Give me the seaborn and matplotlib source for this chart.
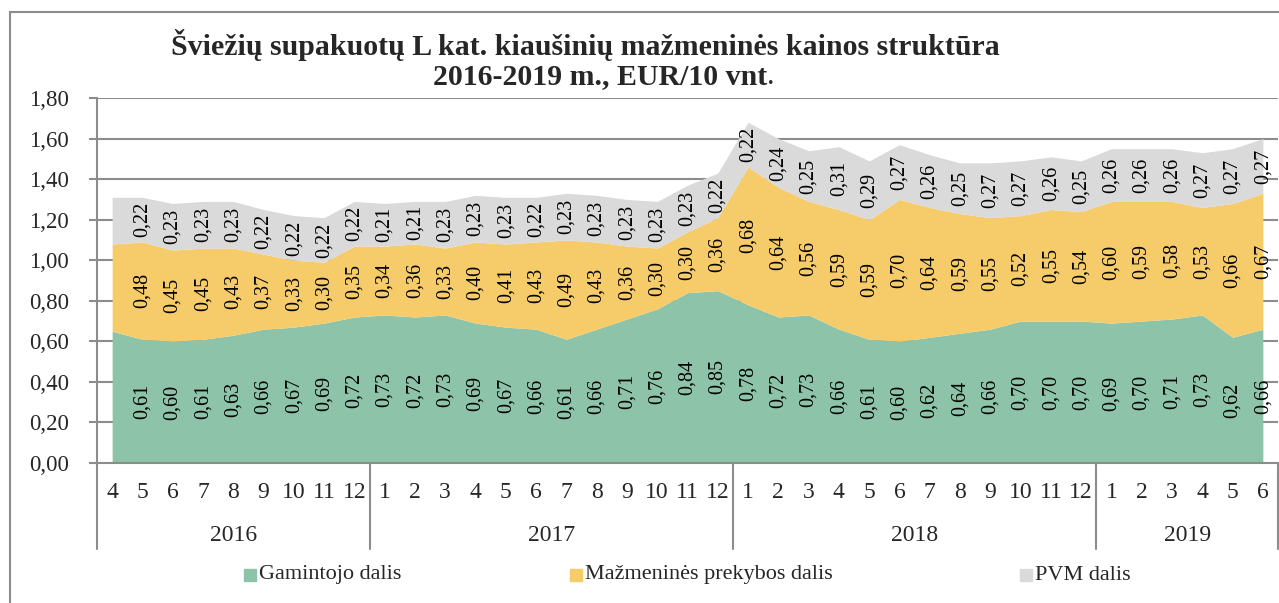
import numpy as np
import pandas as pd
import matplotlib
matplotlib.use("Agg")
import matplotlib.pyplot as plt
import seaborn as sns
from matplotlib.patches import Rectangle
from matplotlib.lines import Line2D

# ---------------- data ----------------
years = ["2016", "2017", "2018", "2019"]
months_per_year = [list(range(4, 13)), list(range(1, 13)), list(range(1, 13)), list(range(1, 7))]
month_labels = [str(m) for ms in months_per_year for m in ms]

gamintojo = [0.65, 0.61, 0.60, 0.61, 0.63, 0.66, 0.67, 0.69, 0.72,
             0.73, 0.72, 0.73, 0.69, 0.67, 0.66, 0.61, 0.66, 0.71, 0.76, 0.84, 0.85,
             0.78, 0.72, 0.73, 0.66, 0.61, 0.60, 0.62, 0.64, 0.66, 0.70, 0.70, 0.70,
             0.69, 0.70, 0.71, 0.73, 0.62, 0.66]
prekybos = [0.43, 0.48, 0.45, 0.45, 0.43, 0.37, 0.33, 0.30, 0.35,
            0.34, 0.36, 0.33, 0.40, 0.41, 0.43, 0.49, 0.43, 0.36, 0.30, 0.30, 0.36,
            0.68, 0.64, 0.56, 0.59, 0.59, 0.70, 0.64, 0.59, 0.55, 0.52, 0.55, 0.54,
            0.60, 0.59, 0.58, 0.53, 0.66, 0.67]
pvm = [0.23, 0.22, 0.23, 0.23, 0.23, 0.22, 0.22, 0.22, 0.22,
       0.21, 0.21, 0.23, 0.23, 0.23, 0.22, 0.23, 0.23, 0.23, 0.23, 0.23, 0.22,
       0.22, 0.24, 0.25, 0.31, 0.29, 0.27, 0.26, 0.25, 0.27, 0.27, 0.26, 0.25,
       0.26, 0.26, 0.26, 0.27, 0.27, 0.27]
series_names = ["Gamintojo dalis", "Mažmeninės prekybos dalis", "PVM dalis"]
yticks = [0.0, 0.2, 0.4, 0.6, 0.8, 1.0, 1.2, 1.4, 1.6, 1.8]

df = pd.DataFrame({"x": np.arange(len(month_labels)), series_names[0]: gamintojo,
                   series_names[1]: prekybos, series_names[2]: pvm})

# ---------------- style ----------------
sns.set_theme(style="white")
plt.rcParams["font.family"] = ["Liberation Serif", "DejaVu Serif"]
colors = sns.color_palette(["#8dc3a8", "#f5cc69", "#dadada"])
grid_c = "#8c8c8c"
W, H = 1279, 603

fig = plt.figure(figsize=(12.79, 6.03), dpi=100)
ax = fig.add_axes([97 / W, 1 - 463 / H, (1278 - 97) / W, (463 - 98) / H])

x = df["x"].values
ax.stackplot(x, df[series_names[0]], df[series_names[1]], df[series_names[2]],
             colors=colors, linewidth=0, zorder=2)

n = len(x)
ax.set_xlim(-0.5, n - 0.5)
ax.set_ylim(0, 1.8)
ax.set_yticks(yticks)
ax.set_yticklabels([f"{v:.2f}".replace(".", ",") for v in yticks], fontsize=16.5)
for v in yticks[1:]:
    ax.axhline(v, color=grid_c, lw=1.5, zorder=1)
ax.set_xticks([])
for s in ["top", "right"]:
    ax.spines[s].set_visible(False)
for s in ["left", "bottom"]:
    ax.spines[s].set_color(grid_c)
    ax.spines[s].set_linewidth(1.5)
ax.spines["bottom"].set_zorder(3)
ax.tick_params(axis="y", length=6, width=1.5, color=grid_c, pad=14, left=True)

# data labels (rotated, centred in each band)
g = np.array(gamintojo); p = np.array(prekybos); v = np.array(pvm)
for i in range(1, n):
    for val, base in ((g[i], 0), (p[i], g[i]), (v[i], g[i] + p[i])):
        ax.text(x[i], base + val / 2, f"{val:.2f}".replace(".", ","), rotation=90,
                ha="center", va="center", fontsize=14.5, color="black", zorder=4)

# category axis: months and years
trans = ax.get_xaxis_transform()
for i, lab in enumerate(month_labels):
    ax.text(x[i], -0.08, lab, transform=trans, ha="center", va="center", fontsize=17, clip_on=False)
start = 0
bounds = [-0.5]
for yr, ms in zip(years, months_per_year):
    end = start + len(ms)
    ax.text((start + end - 1) / 2, -0.198, yr, transform=trans, ha="center", va="center",
            fontsize=17, clip_on=False)
    bounds.append(end - 0.5)
    start = end
for b in bounds:
    ax.add_line(Line2D([b, b], [0, -0.235], transform=trans, color=grid_c, lw=1.5, clip_on=False))

# title
t = fig.text(585 / W, 1 - 45 / H, "Šviežių supakuotų L kat. kiaušinių mažmeninės kainos struktūra",
             ha="center", va="center", fontsize=21.5, fontweight="bold")
t2 = fig.text(600 / W, 1 - 77 / H, "2016-2019 m., EUR/10 vnt", ha="center", va="center",
              fontsize=21.5, fontweight="bold")
ann = plt.annotate(".", xy=(1, 0), xycoords=t2, va="bottom", ha="left", fontsize=21.5)

# legend (manual placement, as in the reference)
leg_y = 1 - 575 / H
sq = 12
for name, c, xs in zip(series_names, colors, [244, 570, 1020]):
    fig.patches.append(Rectangle((xs / W, leg_y - sq / 2 / H), sq / W, sq / H,
                                 transform=fig.transFigure, color=c))
    fig.text((xs + sq + 3) / W, leg_y, name, ha="left", va="center", fontsize=16)

# outer chart border
fig.patches.append(Rectangle((10 / W, -0.01), 1.0, 1 - 12 / H + 0.01, transform=fig.transFigure,
                             fill=False, edgecolor=grid_c, lw=1.5))

fig.savefig("out.png", dpi=100)
